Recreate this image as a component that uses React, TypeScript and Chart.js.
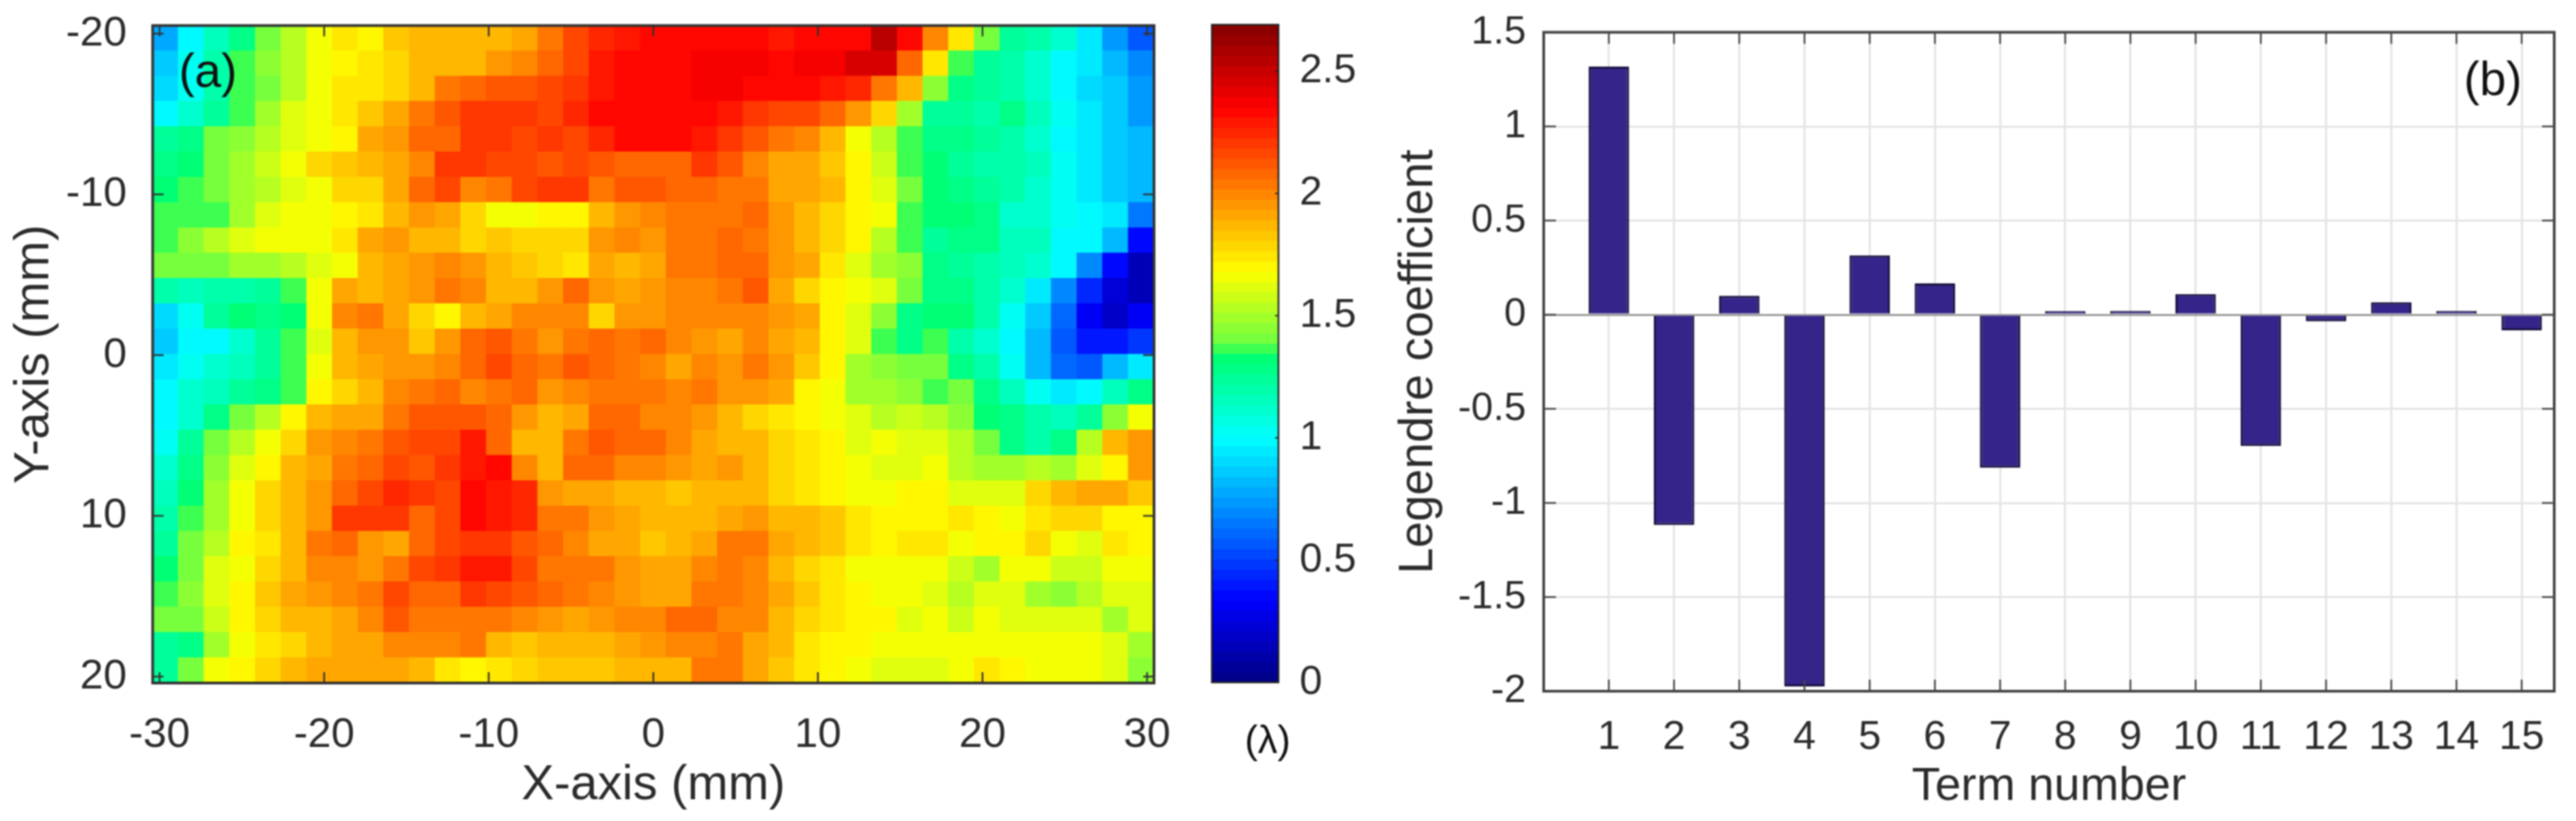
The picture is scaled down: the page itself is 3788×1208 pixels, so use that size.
import React, { useEffect, useRef } from "react";
import { Chart, registerables } from "chart.js";

Chart.register(...registerables);

const FONT = "'Liberation Sans', Arial, sans-serif";
const INK = "#2b2b2b";

// Panel (b)
const termNumbers = [1, 2, 3, 4, 5, 6, 7, 8, 9, 10, 11, 12, 13, 14, 15];
const legendreCoefficients = [1.318, -1.117, 0.1, -1.975, 0.315, 0.166, -0.813, 0.019, 0.02, 0.109, -0.698, -0.035, 0.066, 0.02, -0.083];

// Panel (a): wavelength values, one list per row from y = -20.5 to y = 20.4, each with 39 blocks
const row00 = [0.78,1.0,1.17,1.3,1.42,1.55,1.68,1.75,1.72,1.82,1.87,1.85,1.87,1.85,1.93,2.02,2.15,2.25,2.3,2.33,2.35,2.35,2.33,2.35,2.3,2.35,2.35,2.35,2.55,2.35,2.0,1.76,1.4,1.25,1.2,1.1,0.95,0.75,0.55];
const row01 = [0.85,1.02,1.2,1.35,1.45,1.55,1.66,1.72,1.76,1.8,1.85,1.88,1.88,1.95,2.0,2.08,2.18,2.28,2.35,2.35,2.35,2.38,2.36,2.36,2.35,2.38,2.36,2.45,2.45,2.1,1.75,1.35,1.22,1.2,1.1,1.0,0.93,0.8,0.7];
const row02 = [0.9,1.05,1.2,1.36,1.42,1.55,1.68,1.75,1.74,1.8,1.87,2.05,2.06,2.12,2.12,2.15,2.2,2.3,2.35,2.35,2.35,2.38,2.36,2.35,2.35,2.35,2.3,2.25,2.05,1.85,1.45,1.3,1.22,1.2,1.1,1.0,0.92,0.85,0.75];
const row03 = [1.0,1.1,1.25,1.38,1.48,1.6,1.68,1.75,1.82,1.9,2.05,2.12,2.2,2.2,2.2,2.18,2.25,2.32,2.35,2.35,2.35,2.35,2.3,2.2,2.18,2.15,2.1,1.95,1.8,1.5,1.25,1.25,1.2,1.3,1.15,1.02,0.95,0.85,0.75];
const row04 = [1.22,1.3,1.42,1.45,1.55,1.62,1.66,1.7,1.9,1.95,2.08,2.1,2.22,2.22,2.15,2.22,2.18,2.25,2.32,2.33,2.33,2.3,2.2,2.12,2.05,2.0,1.88,1.68,1.55,1.35,1.28,1.28,1.25,1.2,1.1,1.0,0.95,0.88,0.8];
const row05 = [1.3,1.33,1.42,1.48,1.58,1.66,1.8,1.83,1.88,1.93,1.98,2.22,2.22,2.15,2.18,2.12,2.15,2.12,2.07,2.08,2.1,2.2,2.12,2.0,1.93,1.9,1.82,1.7,1.58,1.38,1.32,1.22,1.2,1.2,1.15,1.05,0.95,0.85,0.82];
const row06 = [1.33,1.38,1.42,1.48,1.55,1.62,1.68,1.78,1.8,1.9,2.1,2.15,2.0,2.05,2.15,2.2,2.2,2.05,2.12,2.12,2.1,2.1,2.05,2.02,1.93,1.9,1.85,1.72,1.62,1.42,1.32,1.28,1.25,1.2,1.12,1.02,0.95,0.88,0.82];
const row07 = [1.38,1.35,1.35,1.5,1.62,1.65,1.68,1.72,1.76,1.88,1.96,1.9,1.78,1.68,1.68,1.72,1.72,1.85,1.97,2.0,2.05,2.05,2.02,2.1,1.95,1.88,1.8,1.7,1.65,1.38,1.33,1.33,1.28,1.1,1.1,1.05,0.98,0.95,0.65];
const row08 = [1.36,1.45,1.52,1.6,1.65,1.68,1.65,1.76,1.92,1.95,1.86,1.85,1.8,1.82,1.78,1.78,1.8,1.95,1.98,1.95,2.05,2.05,2.1,2.05,1.95,1.85,1.78,1.72,1.55,1.38,1.25,1.28,1.3,1.17,1.15,1.0,0.98,0.8,0.35];
const row09 = [1.4,1.42,1.42,1.5,1.5,1.52,1.6,1.68,1.85,1.93,1.95,2.0,1.95,1.87,1.82,1.78,1.75,1.92,1.85,1.9,2.02,2.05,2.08,2.1,1.95,1.9,1.75,1.6,1.5,1.45,1.3,1.25,1.2,1.15,1.1,1.0,0.7,0.35,0.15];
const row10 = [1.18,1.15,1.18,1.2,1.25,1.38,1.68,1.92,1.88,1.93,1.97,2.05,1.98,1.87,1.85,1.95,2.08,1.97,1.92,1.95,2.0,2.0,2.05,2.12,1.9,1.78,1.72,1.65,1.6,1.42,1.3,1.28,1.2,1.1,0.95,0.7,0.45,0.25,0.15];
const row11 = [0.92,1.05,1.25,1.33,1.27,1.33,1.65,1.98,2.03,1.92,1.8,1.72,1.85,1.92,2.0,2.0,1.98,1.78,1.95,1.95,2.0,2.0,1.98,2.0,1.95,1.9,1.72,1.62,1.45,1.3,1.33,1.33,1.18,1.05,0.85,0.6,0.32,0.2,0.3];
const row12 = [0.88,1.0,1.0,1.1,1.22,1.38,1.6,1.88,1.97,1.95,1.82,1.95,2.08,2.12,2.05,1.95,2.05,2.08,2.05,2.08,2.0,1.95,1.92,2.0,1.9,1.85,1.72,1.6,1.35,1.3,1.35,1.2,1.1,1.0,0.8,0.55,0.4,0.38,0.5];
const row13 = [0.95,1.02,1.1,1.15,1.25,1.35,1.66,1.85,1.92,1.95,1.95,2.0,2.1,2.15,2.08,2.05,2.12,2.1,2.02,2.0,1.93,1.98,1.95,2.02,1.95,1.82,1.7,1.5,1.45,1.42,1.42,1.28,1.2,1.05,0.8,0.62,0.55,0.8,0.95];
const row14 = [0.98,1.1,1.17,1.25,1.3,1.38,1.7,1.8,1.88,2.0,2.05,2.1,2.0,2.05,2.1,1.95,2.0,2.05,2.02,2.05,1.98,2.05,1.95,1.95,1.9,1.7,1.65,1.5,1.48,1.45,1.35,1.4,1.28,1.15,1.05,0.95,1.0,1.15,1.3];
const row15 = [0.98,1.13,1.28,1.4,1.55,1.7,1.88,1.92,1.92,2.05,2.12,2.12,2.12,2.1,1.95,1.87,1.9,2.1,2.1,2.0,2.0,1.95,1.85,1.8,1.75,1.72,1.68,1.6,1.55,1.58,1.55,1.45,1.32,1.3,1.2,1.15,1.25,1.45,1.65];
const row16 = [1.05,1.22,1.4,1.55,1.68,1.78,1.95,2.0,2.05,2.12,2.15,2.15,2.28,2.08,1.85,1.85,2.05,2.12,2.1,2.08,2.0,1.9,1.87,1.85,1.8,1.75,1.7,1.62,1.65,1.62,1.62,1.55,1.4,1.28,1.2,1.3,1.55,1.85,1.95];
const row17 = [1.1,1.28,1.45,1.6,1.72,1.88,1.9,2.05,2.08,2.15,2.12,2.22,2.3,2.33,2.0,1.85,2.08,2.08,2.0,1.98,1.95,1.93,1.95,1.85,1.8,1.76,1.72,1.68,1.6,1.62,1.65,1.55,1.5,1.5,1.55,1.5,1.6,1.7,1.95];
const row18 = [1.15,1.32,1.48,1.65,1.78,1.88,1.95,2.08,2.15,2.25,2.2,2.15,2.32,2.3,2.25,1.95,1.92,1.92,1.88,1.85,1.82,1.85,1.88,1.85,1.78,1.75,1.72,1.68,1.68,1.7,1.72,1.62,1.6,1.6,1.78,1.85,1.9,1.92,1.82];
const row19 = [1.2,1.35,1.5,1.68,1.8,1.85,1.95,2.22,2.2,2.2,2.1,2.15,2.35,2.3,2.25,2.05,2.05,1.95,1.9,1.85,1.85,1.87,1.92,1.95,1.88,1.85,1.82,1.75,1.72,1.72,1.72,1.75,1.7,1.68,1.75,1.78,1.78,1.72,1.72];
const row20 = [1.22,1.4,1.55,1.72,1.75,1.85,2.05,2.08,1.95,1.9,2.08,2.15,2.2,2.2,2.12,2.1,1.98,1.9,1.9,1.82,1.85,1.92,2.05,2.05,1.9,1.85,1.82,1.75,1.7,1.75,1.73,1.68,1.7,1.72,1.78,1.68,1.62,1.75,1.72];
const row21 = [1.33,1.42,1.62,1.68,1.78,1.88,2.0,1.98,1.95,2.02,2.15,2.22,2.3,2.3,2.18,2.05,2.05,2.05,1.95,1.92,1.9,2.0,2.05,1.98,1.85,1.8,1.76,1.68,1.68,1.68,1.66,1.58,1.5,1.65,1.68,1.58,1.58,1.65,1.68];
const row22 = [1.35,1.45,1.62,1.72,1.82,1.92,1.95,2.0,2.05,2.15,2.1,2.08,2.2,2.15,2.12,2.08,2.05,2.0,1.95,1.9,1.9,2.02,2.05,2.0,1.9,1.82,1.75,1.7,1.68,1.66,1.6,1.55,1.6,1.6,1.5,1.45,1.55,1.62,1.6];
const row23 = [1.4,1.42,1.58,1.7,1.8,1.85,1.85,1.92,2.0,2.12,2.05,2.05,2.02,2.05,2.0,1.95,1.9,1.95,1.98,2.0,2.1,2.1,2.0,1.98,1.88,1.8,1.75,1.7,1.7,1.62,1.65,1.58,1.65,1.62,1.6,1.62,1.62,1.5,1.6];
const row24 = [1.25,1.3,1.5,1.65,1.75,1.8,1.85,1.9,1.92,1.98,1.98,1.98,2.05,1.85,1.82,1.85,1.88,1.88,1.92,1.95,1.98,2.0,2.02,1.92,1.85,1.76,1.72,1.7,1.68,1.65,1.66,1.66,1.68,1.68,1.68,1.68,1.65,1.6,1.5];
const row25 = [1.25,1.4,1.65,1.72,1.8,1.85,1.92,1.92,1.9,1.92,1.88,1.75,1.72,1.75,1.78,1.82,1.82,1.82,1.88,1.88,1.85,2.05,2.05,1.9,1.82,1.76,1.72,1.66,1.62,1.6,1.6,1.68,1.75,1.72,1.68,1.68,1.66,1.62,1.45];
const heatRows = [row00,row01,row02,row03,row04,row05,row06,row07,row08,row09,row10,row11,row12,row13,row14,row15,row16,row17,row18,row19,row20,row21,row22,row23,row24,row25];

// Axis limits
const X_LIM = [-30.42, 30.42];
const Y_LIM = [-20.5, 20.4];
const CB_MAX = 2.69;
const CB_LEVELS = 64;

// Colour scale stops: value, r, g, b
const colourStops = [
  [0, 0, 0, 130],
  [0.34, 0, 0, 255],
  [1.0, 0, 255, 255],
  [1.36, 0, 255, 100],
  [1.37, 100, 255, 70],
  [1.68, 255, 255, 0],
  [2.35, 255, 0, 0],
  [2.69, 130, 0, 0],
];

function colourOf(value: number): string {
  const level = Math.min(CB_LEVELS - 1, Math.max(0, Math.floor((value / CB_MAX) * CB_LEVELS)));
  const v = ((level + 0.5) / CB_LEVELS) * CB_MAX;
  for (let i = 1; i < colourStops.length; i++) {
    const a = colourStops[i - 1];
    const b = colourStops[i];
    if (v <= b[0]) {
      const t = (v - a[0]) / (b[0] - a[0]);
      return `rgb(${Math.round(a[1] + (b[1] - a[1]) * t)},${Math.round(a[2] + (b[2] - a[2]) * t)},${Math.round(a[3] + (b[3] - a[3]) * t)})`;
    }
  }
  return "rgb(130,0,0)";
}

type Note = { text: string; x: number; y: number; size: number; align?: CanvasTextAlign };

// Inner tick marks, frame and panel labels, drawn from the chart's own scales.
function framePlugin(cfg: { color: string; width: number; frame: number; tickX: number; tickY: number; both: boolean; notes: Note[] }) {
  return {
    id: "frame",
    afterDatasetsDraw(chart: any) {
      const { ctx, chartArea: a, scales } = chart;
      ctx.save();
      ctx.strokeStyle = cfg.color;
      ctx.lineWidth = cfg.width;
      const sx = scales.x;
      const sy = scales.y;
      if (cfg.tickX > 0) {
        for (const t of sx.ticks) {
          const p = sx.getPixelForValue(t.value);
          if (p <= a.left + 1) continue;
          ctx.beginPath();
          ctx.moveTo(p, a.top);
          ctx.lineTo(p, a.top + cfg.tickX);
          ctx.moveTo(p, a.bottom);
          ctx.lineTo(p, a.bottom - cfg.tickX);
          ctx.stroke();
        }
      }
      for (const t of sy.ticks) {
        const p = sy.getPixelForValue(t.value);
        ctx.beginPath();
        if (cfg.both) {
          ctx.moveTo(a.left, p);
          ctx.lineTo(a.left + cfg.tickY, p);
        }
        ctx.moveTo(a.right, p);
        ctx.lineTo(a.right - cfg.tickY, p);
        ctx.stroke();
      }
      ctx.lineWidth = cfg.frame;
      ctx.strokeRect(a.left, a.top, a.right - a.left, a.bottom - a.top);
      ctx.fillStyle = "#111";
      ctx.textBaseline = "alphabetic";
      for (const n of cfg.notes) {
        ctx.textAlign = n.align || "left";
        ctx.font = `${n.size}px ${FONT}`;
        ctx.fillText(n.text, n.x, n.y);
      }
      ctx.restore();
    },
  };
}

const tickFont = (size: number) => ({ family: FONT, size });
const plain = (v: any) => String(Math.round(Number(v) * 10) / 10);

// Fixes a scale's thickness and drops the room it would ask for label overhang,
// so the plot area is exactly what layout.padding gives.
const fitScale = (prop: "width" | "height", size: number) => (s: any) => {
  s[prop] = size;
  s.paddingLeft = 0;
  s.paddingRight = 0;
  s.paddingTop = 0;
  s.paddingBottom = 0;
};

export default function App() {
  const heatRef = useRef<HTMLCanvasElement>(null);
  const cbRef = useRef<HTMLCanvasElement>(null);
  const barRef = useRef<HTMLCanvasElement>(null);

  useEffect(() => {
    const dx = (X_LIM[1] - X_LIM[0]) / heatRows[0].length;
    const dy = (Y_LIM[1] - Y_LIM[0]) / heatRows.length;
    const heatData: any[] = [];
    const heatColours: string[] = [];
    heatRows.forEach((row, j) => {
      row.forEach((v, i) => {
        heatData.push({ x: X_LIM[0] + (i + 0.5) * dx, y: [Y_LIM[0] + j * dy, Y_LIM[0] + (j + 1) * dy] });
        heatColours.push(colourOf(v));
      });
    });

    const heat = new Chart(heatRef.current!, {
      type: "bar",
      data: {
        datasets: [
          {
            data: heatData,
            backgroundColor: heatColours,
            borderWidth: 0,
            barPercentage: 1,
            categoryPercentage: 1,
            inflateAmount: 0.6,
          } as any,
        ],
      },
      options: {
        animation: false,
        responsive: false,
        layout: { padding: { left: 0, top: 37.6, right: 43, bottom: 0 } },
        plugins: { legend: { display: false }, tooltip: { enabled: false } },
        scales: {
          x: {
            type: "linear",
            offset: false,
            min: X_LIM[0],
            max: X_LIM[1],
            grid: { display: false, offset: false },
            border: { display: false },
            afterFit: fitScale("height", 203),
            ticks: { stepSize: 10, includeBounds: false, maxRotation: 0, autoSkip: false, padding: 32, color: INK, font: tickFont(62), callback: plain },
            title: { display: true, text: "X-axis (mm)", color: INK, font: tickFont(72), padding: { top: 0, bottom: 9 } },
          },
          y: {
            type: "linear",
            reverse: true,
            min: Y_LIM[0],
            max: Y_LIM[1],
            grid: { display: false },
            border: { display: false },
            afterFit: fitScale("width", 224.5),
            ticks: { stepSize: 10, includeBounds: false, autoSkip: false, padding: 30, color: INK, font: tickFont(62), callback: plain },
            title: { display: true, text: "Y-axis (mm)", color: INK, font: tickFont(72), padding: { top: 8, bottom: 0 } },
          },
        },
      } as any,
      plugins: [framePlugin({ color: "#333", width: 2.5, frame: 4, tickX: 16, tickY: 16, both: true, notes: [{ text: "(a)", x: 263, y: 128, size: 70 }] })],
    });

    const cbStep = CB_MAX / CB_LEVELS;
    const cbData: any[] = [];
    const cbColours: string[] = [];
    for (let k = 0; k < CB_LEVELS; k++) {
      cbData.push({ x: 0.5, y: [k * cbStep, (k + 1) * cbStep] });
      cbColours.push(colourOf((k + 0.5) * cbStep));
    }
    const cb = new Chart(cbRef.current!, {
      type: "bar",
      data: {
        datasets: [
          {
            data: cbData,
            backgroundColor: cbColours,
            borderWidth: 0,
            barThickness: 98,
            inflateAmount: 0.6,
          } as any,
        ],
      },
      options: {
        animation: false,
        responsive: false,
        layout: { padding: { left: 42, top: 36.4, right: 0, bottom: 204 } },
        plugins: { legend: { display: false }, tooltip: { enabled: false } },
        scales: {
          x: { type: "linear", display: false, offset: false, min: 0, max: 1, grid: { display: false, offset: false } },
          y: {
            type: "linear",
            position: "right",
            min: 0,
            max: CB_MAX,
            grid: { display: false },
            border: { display: false },
            afterFit: fitScale("width", 160),
            ticks: { stepSize: 0.5, includeBounds: false, autoSkip: false, padding: 23, color: INK, font: tickFont(60), callback: plain },
          },
        },
      } as any,
      plugins: [framePlugin({ color: "#222", width: 2, frame: 2.5, tickX: 0, tickY: 5, both: false, notes: [{ text: "(λ)", x: 124, y: 1108, size: 58, align: "center" }] })],
    });

    const bars = new Chart(barRef.current!, {
      type: "bar",
      data: {
        datasets: [
          {
            data: termNumbers.map((t, i) => ({ x: t, y: legendreCoefficients[i] })),
            backgroundColor: "#35258a",
            borderColor: "#14103c",
            borderWidth: 3,
            barPercentage: 0.62,
            categoryPercentage: 1,
          } as any,
        ],
      },
      options: {
        animation: false,
        responsive: false,
        layout: { padding: { left: 0, top: 47.5, right: 32, bottom: 0 } },
        plugins: { legend: { display: false }, tooltip: { enabled: false } },
        scales: {
          x: {
            type: "linear",
            offset: false,
            min: 0,
            max: 15.5,
            grid: { color: "#e4e4e4", lineWidth: 3, offset: false, drawTicks: false },
            border: { display: false },
            afterFit: fitScale("height", 191),
            ticks: {
              stepSize: 1,
              includeBounds: false,
              maxRotation: 0,
              autoSkip: false,
              padding: 32,
              color: INK,
              font: tickFont(60),
              callback: (v: any) => (Number(v) === 0 ? "" : String(v)),
            },
            title: { display: true, text: "Term number", color: INK, font: tickFont(68.5), padding: { top: 0, bottom: 9 } },
          },
          y: {
            type: "linear",
            min: -2,
            max: 1.5,
            grid: {
              color: (c: any) => (c.tick && c.tick.value === 0 ? "#9a9a9a" : "#e4e4e4"),
              lineWidth: 3,
              drawTicks: false,
            },
            border: { display: false },
            afterFit: fitScale("width", 270),
            ticks: { stepSize: 0.5, autoSkip: false, padding: 26, color: INK, font: tickFont(58), callback: plain },
            title: { display: true, text: "Legendre coefficient", color: INK, font: tickFont(69.5), padding: { top: 45, bottom: 0 } },
          },
        },
      } as any,
      plugins: [framePlugin({ color: "#444", width: 2.5, frame: 4, tickX: 17, tickY: 18, both: true, notes: [{ text: "(b)", x: 1623, y: 140, size: 70 }] })],
    });

    return () => {
      heat.destroy();
      cb.destroy();
      bars.destroy();
    };
  }, []);

  const canvasStyle = (left: number): React.CSSProperties => ({ position: "absolute", left, top: 0, display: "block", filter: "blur(0.9px)" });

  return (
    <div style={{ position: "absolute", left: 0, top: 0, width: 3788, height: 1208, background: "#fff", overflow: "hidden" }}>
      <canvas ref={heatRef} width={1740} height={1208} style={canvasStyle(0)} />
      <canvas ref={cbRef} width={300} height={1208} style={canvasStyle(1740)} />
      <canvas ref={barRef} width={1788} height={1208} style={canvasStyle(2000)} />
    </div>
  );
}
